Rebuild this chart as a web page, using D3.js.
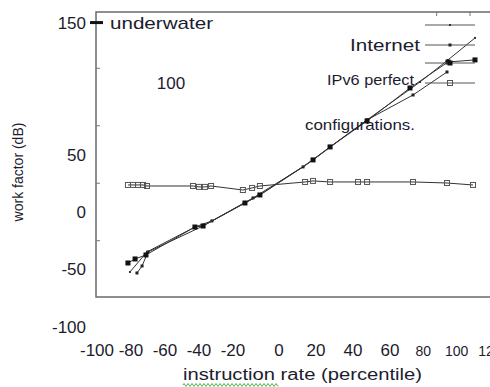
<!DOCTYPE html>
<html><head><meta charset="utf-8">
<script src="https://cdn.jsdelivr.net/npm/d3@7"></script>
<style>html,body{margin:0;padding:0;background:#fff;}svg{display:block;}</style>
</head><body>
<svg id="c" width="490" height="387"></svg>
<script>
// ---- data ----
const xTickLabels = [-100, -80, -60, -40, -20, 0, 20, 40, 60, 80, 100, 120];
const yTickLabels = [-100, -50, 0, 50, 100, 150];
const yMinorTicks = [-25, 25, 75, 125];
const seriesNames = ["underwater", "Internet", "IPv6 perfect", "configurations."];

const s1x = [-80.6, -70.6, -42.4, -32.4, -14.8, -8.3, 13.0, 27.6, 47.6, 78, 94.8, 111];
const s1y = [-52.2, -34.8, -13.1, -7.8, 7.8, 14.8, 39.2, 56.6, 80.1, 113.1, 132.3, 151.4];

const s2x = [-76.5, -73.5, -70, -37.6, -32.4, -11.3, 13.0, 18.4, 47.6, 73.8, 94.2];
const s2y = [-53.1, -47, -34.8, -12.2, -7.8, 12.2, 39.2, 45.3, 80.1, 101.8, 121.8];

const s3x = [-81.8, -77.6, -71.2, -42.4, -37.6, -14.8, -8.3, 18.4, 27.6, 47.6, 72, 94.8, 111];
const s3y = [-44.4, -40.9, -37.4, -13.1, -12.2, 7.8, 14.8, 45.3, 56.6, 79.2, 107.9, 130.5, 132.3];

const s4x = [-81.8, -78.8, -75.9, -72.9, -70.6, -43.5, -40, -36.5, -32.9, -15.7, -11.7, -8.3, 14.1, 18.4, 27.6, 42.7, 47.6, 73.8, 94.2, 109.8];
const s4y = [23.5, 23.5, 23.5, 23.5, 22.6, 22.6, 21.8, 21.8, 22.6, 19.1, 20.9, 22.6, 26.1, 27.0, 26.1, 26.1, 26.1, 26.1, 25.2, 23.5];

// ---- drawing ----
(function () {
const svg = d3.select("#c");
const FONT = "'Liberation Sans', Arial, sans-serif";
const TXT = "#1c1c2e";

const x = d3.scaleLinear().domain([-100, -20, 0, 60, 120]).range([97, 233, 279, 390, 490]);
const y = d3.scaleLinear().domain([-74, 174]).range([297, 12]);

const pLeft = 96, pTop = y.range()[1], pBottom = y.range()[0];

// frame
svg.append("path")
  .attr("d", `M500,${pTop}H${pLeft}V${pBottom}H500`)
  .attr("fill", "none").attr("stroke", "#6a6a6a").attr("stroke-width", 1.5);

// minor y ticks (inside)
svg.selectAll(".ymt").data(yMinorTicks).enter().append("line")
  .attr("x1", pLeft).attr("x2", pLeft + 4)
  .attr("y1", d => y(d)).attr("y2", d => y(d))
  .attr("stroke", "#777").attr("stroke-width", 1);

// top ticks
svg.selectAll(".xtt").data([88, 108]).enter().append("line")
  .attr("x1", d => x(d)).attr("x2", d => x(d))
  .attr("y1", pTop).attr("y2", pTop + 4)
  .attr("stroke", "#777").attr("stroke-width", 1);

// y tick labels
yTickLabels.forEach(v => {
  if (v === 150) {
    const yy = y(v) - 17;
    svg.append("line").attr("x1", 90).attr("x2", 103).attr("y1", yy).attr("y2", yy)
      .attr("stroke", "#111").attr("stroke-width", 3);
    svg.append("text").attr("x", 86).attr("y", yy + 6).attr("text-anchor", "end")
      .attr("font-family", FONT).attr("font-size", 17).attr("fill", TXT).text(v);
  } else if (v === 100) {
    svg.append("text").attr("x", 171).attr("y", y(v) - 14 + 6).attr("text-anchor", "middle")
      .attr("font-family", FONT).attr("font-size", 17).attr("fill", TXT).text(v);
  } else {
    svg.append("text").attr("x", 86).attr("y", y(v) + 6).attr("text-anchor", "end")
      .attr("font-family", FONT).attr("font-size", 17).attr("fill", TXT).text(v);
  }
});

// x tick labels
svg.selectAll(".xl").data(xTickLabels).enter().append("text")
  .attr("x", d => x(d)).attr("y", 356)
  .attr("text-anchor", "middle")
  .attr("font-family", FONT)
  .attr("font-size", d => d >= 80 ? 14 : 17)
  .attr("fill", TXT)
  .text(d => d);

// axis titles
svg.append("text")
  .attr("transform", "translate(23,172) rotate(-90)")
  .attr("text-anchor", "middle").attr("font-family", FONT).attr("font-size", 14)
  .attr("fill", TXT).text("work factor (dB)");

svg.append("text").attr("x", 183).attr("y", 380)
  .attr("font-family", FONT).attr("font-size", 16).attr("fill", TXT)
  .attr("textLength", 239).attr("lengthAdjust", "spacingAndGlyphs")
  .text("instruction rate (percentile)");

// green spell-check squiggle under "instruction"
let sq = "M183,385";
for (let px = 183; px < 278; px += 2) sq += `L${px + 1},${(px - 183) % 4 === 0 ? 383.5 : 386.5}`;
svg.append("path").attr("d", sq).attr("fill", "none").attr("stroke", "#4caf50").attr("stroke-width", 1);

// series
const series = [
  { xs: s1x, ys: s1y, mk: "plus" },
  { xs: s2x, ys: s2y, mk: "small" },
  { xs: s3x, ys: s3y, mk: "big" },
  { xs: s4x, ys: s4y, mk: "open" }
];
const line = d3.line().x(d => x(d[0])).y(d => y(d[1]));

function marker(g, cx, cy, mk) {
  if (mk === "plus") {
    g.append("rect").attr("x", cx - 1).attr("y", cy - 1).attr("width", 2).attr("height", 2).attr("fill", "#333");
  } else if (mk === "small") {
    g.append("rect").attr("x", cx - 1.5).attr("y", cy - 1.5).attr("width", 3).attr("height", 3).attr("fill", "#222");
  } else if (mk === "big") {
    g.append("rect").attr("x", cx - 2.5).attr("y", cy - 2.5).attr("width", 5).attr("height", 5).attr("fill", "#111");
  } else {
    g.append("rect").attr("x", cx - 2.5).attr("y", cy - 2.5).attr("width", 5).attr("height", 5)
      .attr("fill", "none").attr("stroke", "#555").attr("stroke-width", 1);
  }
}

series.forEach(s => {
  const pts = s.xs.map((v, i) => [v, s.ys[i]]);
  svg.append("path").attr("d", line(pts)).attr("fill", "none")
    .attr("stroke", "#333").attr("stroke-width", 1);
  const g = svg.append("g");
  pts.forEach(p => marker(g, x(p[0]), y(p[1]), s.mk));
});

// legend
const legY = [25, 45, 63, 83];
series.forEach((s, i) => {
  svg.append("line").attr("x1", 425).attr("x2", 475).attr("y1", legY[i]).attr("y2", legY[i])
    .attr("stroke", "#555").attr("stroke-width", 1);
  marker(svg.append("g"), 450, legY[i], s.mk);
});

svg.append("text").attr("x", 110).attr("y", 29).attr("font-family", FONT).attr("font-size", 17)
  .attr("fill", TXT).attr("textLength", 103).attr("lengthAdjust", "spacingAndGlyphs").text(seriesNames[0]);
svg.append("text").attr("x", 350).attr("y", 51).attr("font-family", FONT).attr("font-size", 17)
  .attr("fill", TXT).attr("textLength", 70).attr("lengthAdjust", "spacingAndGlyphs").text(seriesNames[1]);
svg.append("text").attr("x", 327).attr("y", 85).attr("font-family", FONT).attr("font-size", 15)
  .attr("fill", TXT).attr("textLength", 87).attr("lengthAdjust", "spacingAndGlyphs").text(seriesNames[2]);
svg.append("text").attr("x", 305).attr("y", 130).attr("font-family", FONT).attr("font-size", 15)
  .attr("fill", TXT).attr("textLength", 110).attr("lengthAdjust", "spacingAndGlyphs").text(seriesNames[3]);
})();
</script>
</body></html>
